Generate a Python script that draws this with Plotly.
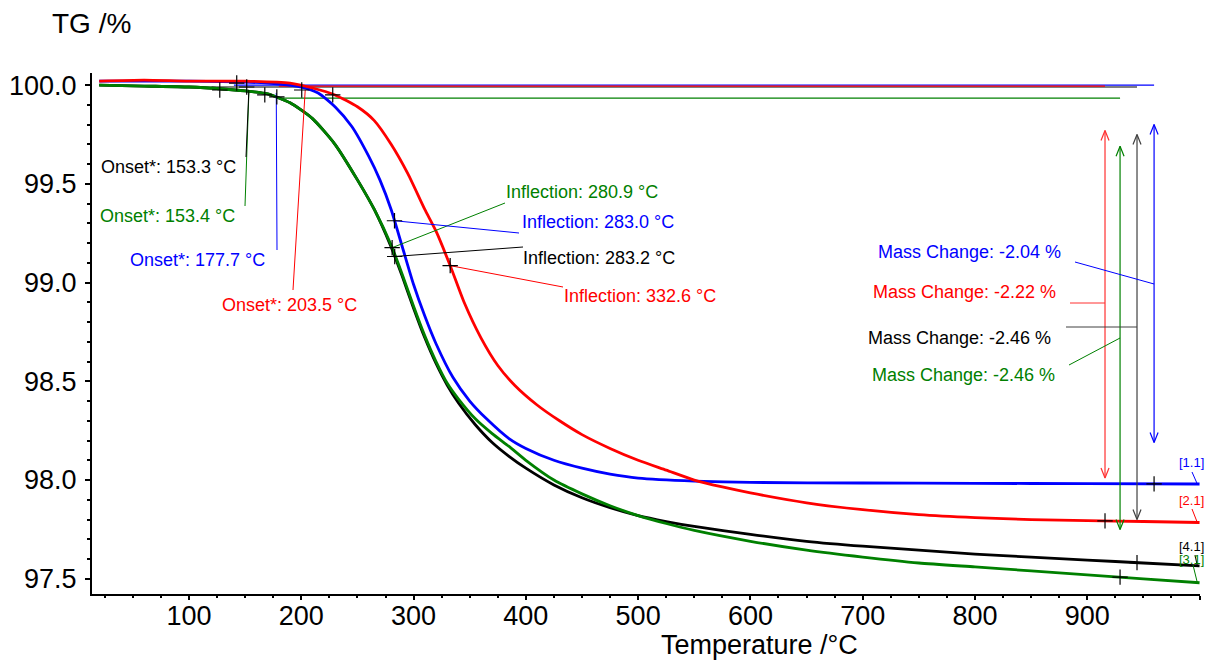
import numpy as np
import plotly.graph_objects as go

# ---- TG curves (temperature in °C, mass in %) ----
blue_T = [20, 60, 100, 150, 180, 200, 215, 230, 245, 260, 270, 280, 290, 300, 310, 320, 335, 350,
          365, 385, 400, 425, 450, 475, 500, 550, 600, 700, 800, 900, 1000]
blue_TG = [100.02, 100.02, 100.02, 100.015, 100.005, 99.99, 99.96, 99.89, 99.79, 99.64, 99.52, 99.37,
           99.18, 98.99, 98.83, 98.69, 98.52, 98.40, 98.31, 98.21, 98.16, 98.10, 98.06, 98.03, 98.01,
           97.995, 97.988, 97.985, 97.983, 97.982, 97.98]

red_T = [20, 60, 100, 150, 190, 210, 230, 250, 265, 280, 295, 310, 320, 333, 345, 360, 375, 390, 410,
         430, 450, 475, 500, 525, 550, 575, 600, 650, 700, 750, 800, 850, 900, 950, 1000]
red_TG = [100.02, 100.025, 100.02, 100.02, 100.01, 99.985, 99.95, 99.89, 99.82, 99.70, 99.55, 99.37,
          99.26, 99.08, 98.90, 98.72, 98.58, 98.48, 98.38, 98.30, 98.23, 98.16, 98.10, 98.05, 98.00,
          97.965, 97.935, 97.885, 97.85, 97.825, 97.81, 97.80, 97.795, 97.79, 97.785]

green_T = [20, 60, 100, 130, 150, 170, 190, 210, 230, 250, 265, 280, 290, 300, 310, 320, 330, 340, 355,
           370, 385, 400, 425, 450, 475, 500, 525, 550, 600, 650, 700, 750, 800, 850, 900, 950, 1000]
green_TG = [100.0, 99.995, 99.99, 99.98, 99.97, 99.955, 99.91, 99.83, 99.70, 99.52, 99.37, 99.19,
            99.04, 98.88, 98.73, 98.60, 98.49, 98.41, 98.31, 98.235, 98.17, 98.10, 98.00, 97.93,
            97.87, 97.82, 97.78, 97.745, 97.69, 97.645, 97.61, 97.58, 97.56, 97.54, 97.52, 97.50,
            97.48]

black_T = green_T
black_TG = [100.0, 99.995, 99.99, 99.98, 99.97, 99.955, 99.91, 99.83, 99.70, 99.52, 99.37, 99.18,
            99.03, 98.87, 98.72, 98.59, 98.48, 98.39, 98.28, 98.19, 98.12, 98.06, 97.975, 97.91,
            97.86, 97.82, 97.79, 97.765, 97.725, 97.69, 97.665, 97.645, 97.625, 97.61, 97.595, 97.58,
            97.565]

# ---- evaluation results ----
onset_T = {"black": 153.3, "green": 153.4, "blue": 177.7, "red": 203.5}
onset_level = {"black": 99.975, "green": 99.975, "blue": 99.96, "red": 99.975}
inflection_T = {"green": 280.9, "blue": 283.0, "black": 283.2, "red": 332.6}
mass_change = {"blue": -2.04, "red": -2.22, "black": -2.46, "green": -2.46}
# temperature at which each mass-change arrow is drawn, and arrow extent
arrow_T = {"red": 915.8, "green": 929.2, "black": 944.3, "blue": 959.5}
arrow_top = {"red": 99.77, "green": 99.69, "black": 99.75, "blue": 99.80}
arrow_bottom = {"red": 98.01, "green": 97.75, "black": 97.80, "blue": 98.19}
# start level lines of the mass-change steps: (from T, to T, level)
start_level = {"blue": (140, 959.5, 100.0), "black": (120, 944.3, 99.99),
               "red": (180, 915.8, 99.995), "green": (178, 929.2, 99.934)}
# tangent construction points of the onset evaluations
onset_mark_T = [127.4, 142.5, 151.4, 167.5, 178.2, 200.4, 228.0]
onset_mark_TG = [99.975, 100.01, 99.99, 99.95, 99.94, 99.975, 99.95]

curves = {
    "black": (black_T, black_TG),
    "blue": (blue_T, blue_TG),
    "red": (red_T, red_TG),
    "green": (green_T, green_TG),
}
COL = {"blue": "#0000FF", "red": "#FF0000", "green": "#008000", "black": "#000000"}
ARROW_COL = {"blue": "#0000FF", "red": "#FF3030", "green": "#008000", "black": "#404040"}
SEG = {"blue": "1.1", "red": "2.1", "green": "3.1", "black": "4.1"}

# ---- page geometry ----
W, H = 1205, 663
ML, MR, MT, MB = 92, 5, 73, 69
X_RANGE = [13.6, 1000.4]
Y_RANGE = [97.423, 100.061]
PW, PH = W - ML - MR, H - MT - MB
DX = (X_RANGE[1] - X_RANGE[0]) / PW   # °C per pixel
DY = (Y_RANGE[1] - Y_RANGE[0]) / PH   # % per pixel


def px2x(px):
    return X_RANGE[0] + (px - ML) * DX


def py2y(py):
    return Y_RANGE[1] - (py - MT) * DY


def value_at(name, t):
    ts, vs = curves[name]
    return float(np.interp(t, ts, vs))


FONT = "Liberation Sans, Arial, sans-serif"
fig = go.Figure()


def add_line(xs, ys, color, width=1.0):
    fig.add_trace(go.Scatter(x=xs, y=ys, mode="lines", hoverinfo="skip",
                             line=dict(color=color, width=width), showlegend=False))


# start level lines of the mass-change evaluations
for name in ["blue", "black", "red", "green"]:
    t0, t1, lvl = start_level[name]
    add_line([t0, t1], [lvl, lvl], COL[name], 1.2)

# TG curves
for name in ["black", "blue", "red", "green"]:
    ts, vs = curves[name]
    fig.add_trace(go.Scatter(x=ts, y=vs, mode="lines", name=name, hoverinfo="skip",
                             line=dict(color=COL[name], width=2.8, shape="spline", smoothing=0.6),
                             showlegend=False))

# onset leaders: from onset point to the label
onset_label = {  # label left edge / middle (page pixels), leader end (page pixels)
    "black": ((101, 167), (246, 157)),
    "green": ((100, 216), (245, 206)),
    "blue": ((130, 260), (277, 250)),
    "red": ((222, 305), (293, 290)),
}
for name in ["green", "black", "blue", "red"]:
    (lx, ly), (ex, ey) = onset_label[name]
    add_line([onset_T[name], px2x(ex)], [onset_level[name], py2y(ey)], COL[name])

# inflection leaders
infl_label = {
    "green": ((506, 192), (505, 203)),
    "blue": ((522, 222), (519, 233)),
    "black": ((523, 258), (523, 247)),
    "red": ((564, 296), (563, 287)),
}
for name in ["green", "blue", "black", "red"]:
    (lx, ly), (ex, ey) = infl_label[name]
    t = inflection_T[name]
    add_line([t, px2x(ex)], [value_at(name, t), py2y(ey)], COL[name])

# mass-change double arrows with open V heads
HEAD_LEN, HEAD_HALF = 10, 4
for name in ["red", "green", "black", "blue"]:
    t, top, bot = arrow_T[name], arrow_top[name], arrow_bottom[name]
    c = ARROW_COL[name]
    add_line([t, t], [top, bot], c, 1.2)
    add_line([t - HEAD_HALF * DX, t, t + HEAD_HALF * DX],
             [top - HEAD_LEN * DY, top, top - HEAD_LEN * DY], c, 1.2)
    add_line([t - HEAD_HALF * DX, t, t + HEAD_HALF * DX],
             [bot + HEAD_LEN * DY, bot, bot + HEAD_LEN * DY], c, 1.2)

# mass-change label leaders (label end -> point on arrow)
mc_label = {
    "blue": ((878, 252), (1075, 262), 284),
    "red": ((873, 292), (1070, 303), 303),
    "black": ((868, 338), (1066, 327), 327),
    "green": ((872, 375), (1069, 365), 338),
}
for name, ((lx, ly), (ex, ey), ay) in mc_label.items():
    add_line([px2x(ex), arrow_T[name]], [py2y(ey), py2y(ay)], ARROW_COL[name])

# segment tags at the curve ends
seg_label = {"blue": (462, (1192, 472)), "red": (500, (1192, 509)),
             "black": (546, (1195, 555)), "green": (559, (1193, 565))}
for name, (ly, (sx, sy)) in seg_label.items():
    add_line([px2x(sx), 998], [py2y(sy), value_at(name, 998)], COL[name])

# evaluation crosses
cross_x = list(onset_mark_T)
cross_y = list(onset_mark_TG)
for name in ["green", "blue", "black", "red"]:
    cross_x.append(inflection_T[name])
    cross_y.append(value_at(name, inflection_T[name]))
for name in ["red", "green", "black", "blue"]:
    cross_x.append(arrow_T[name])
    cross_y.append(value_at(name, arrow_T[name]))
fig.add_trace(go.Scatter(x=cross_x, y=cross_y, mode="markers", hoverinfo="skip", showlegend=False,
                         marker=dict(symbol="cross-thin", size=11,
                                     line=dict(color="#000000", width=1.2))))


# ---- text ----
def add_text(txt, px, py, color, size=18, anchor="left"):
    fig.add_annotation(x=px2x(px), y=py2y(py), xref="x", yref="y", text=txt, showarrow=False,
                       xanchor=anchor, yanchor="middle", font=dict(family=FONT, size=size, color=color))


for name in ["black", "green", "blue", "red"]:
    (lx, ly), _ = onset_label[name]
    add_text(f"Onset*: {onset_T[name]:.1f} °C", lx - 2, ly, COL[name])
for name in ["green", "blue", "black", "red"]:
    (lx, ly), _ = infl_label[name]
    add_text(f"Inflection: {inflection_T[name]:.1f} °C", lx - 2, ly, COL[name])
for name, ((lx, ly), _, _) in mc_label.items():
    add_text(f"Mass Change: {mass_change[name]:.2f} %", lx - 2, ly, COL[name])
for name, (ly, _) in seg_label.items():
    add_text(f"[{SEG[name]}]", 1177, ly, COL[name], size=13)

fig.add_annotation(x=(759 - ML) / PW, y=(H - MB - 645) / PH, xref="paper", yref="paper",
                   text="Temperature /°C", showarrow=False, xanchor="center", yanchor="middle",
                   font=dict(family=FONT, size=27, color="#000000"))
fig.add_annotation(x=(91 - ML) / PW, y=(H - MB - 23) / PH, xref="paper", yref="paper",
                   text="TG /%", showarrow=False, xanchor="center", yanchor="middle",
                   font=dict(family=FONT, size=28, color="#000000"))

fig.update_layout(
    width=W, height=H, margin=dict(l=ML, r=MR, t=MT, b=MB),
    paper_bgcolor="white", plot_bgcolor="white", showlegend=False,
    xaxis=dict(range=X_RANGE, tick0=0, dtick=100, showgrid=False, zeroline=False,
               showline=True, linecolor="#000000", linewidth=2, ticks="outside", ticklen=4,
               tickwidth=1.5, tickcolor="#000000", ticklabelstandoff=-7,
               tickfont=dict(family=FONT, size=27, color="#000000"),
               minor=dict(dtick=25, tick0=0, ticks="outside", ticklen=2, tickwidth=1.5,
                          tickcolor="#000000")),
    yaxis=dict(range=Y_RANGE, tick0=97.5, dtick=0.5, tickformat=".1f", showgrid=False,
               zeroline=False, showline=True, linecolor="#000000", linewidth=2, ticks="outside",
               ticklen=5, tickwidth=1.5, tickcolor="#000000", ticklabelstandoff=3,
               tickfont=dict(family=FONT, size=27, color="#000000"),
               minor=dict(dtick=0.1, ticks="outside", ticklen=3, tickwidth=1.5,
                          tickcolor="#000000")),
)

fig.write_html("out.html")
